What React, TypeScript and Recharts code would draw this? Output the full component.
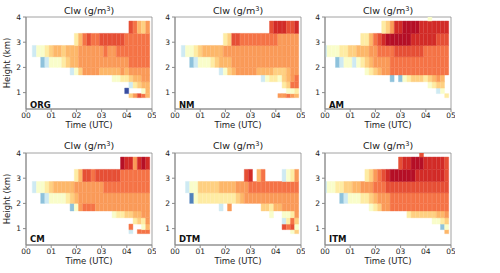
import { Bar, Cell, ComposedChart, ReferenceArea, XAxis, YAxis } from "recharts";

// column times, minutes after 00 UTC (10 min steps)
const MINUTES = [
  0, 10, 20, 30, 40, 50, 60, 70, 80, 90, 100, 110, 120, 130, 140, 150, 160, 170, 180, 190, 200, 210, 220,
  230, 240, 250, 260, 270, 280, 290,
];
const TIME_TICKS = [0, 60, 120, 180, 240, 300];
const HEIGHT_TICKS = [1, 2, 3, 4];
// layer edges in km, bottom to top
const ROW_EDGES = [0.8, 0.96, 1.18, 1.43, 1.7, 2.0, 2.42, 2.87, 3.35, 3.84, 4.3];

// one character per cell -> Clw (g/m3), "." = no cloud water
const LEVEL_CODES = "0123456789ABC";
const LEVEL_VALUES = [0.001, 0.007, 0.013, 0.0175, 0.032, 0.052, 0.07, 0.083, 0.095, 0.137, 0.19, 0.246, 0.3];

// colorbar ticks and where they sit on the bar (0 = bottom, 1 = top)
const CBAR_TICKS = [0, 0.01, 0.02, 0.1, 0.3];
const CBAR_POS = [0.022, 0.167, 0.433, 0.75, 0.969];
const RDYLBU_R = [
  "#313695", "#4575b4", "#74add1", "#abd9e9", "#e0f3f8", "#ffffbf",
  "#fee090", "#fdae61", "#f46d43", "#d73027", "#a50026",
];

// rows from top layer (3.84-4.3 km) down to bottom layer (0.8-0.96 km),
// right aligned so the last character is the 04:50 column
const ORG = [
  "",
  "A9768",
  "579A99AAAAAA999999",
  "3445677677788888898899999999",
  "234445677" + "888888888888" + "99999",
  "3468888" + "77777" + "8788888",
  "445567788",
  "35677",
  "0...47",
  "68A97",
];
const NM = [
  "",
  "ABBBAAB",
  "56AA" + "999999999" + "88888",
  "34456" + "77777" + "888888888888888888",
  "2344456777" + "8888888888888888",
  "3467888887777666788",
  "345546789",
  "5699",
  "445",
  "88987",
];
const AM = [
  "4....",
  "568BBCCCCBBBBBBB",
  "5579AB" + "CCCCCC" + "BBBBBB" + "AAA",
  "3444556677788" + "9999" + "AAAAAAA" + "999999",
  "2344345678888" + "99999999999999",
  "456788" + "99999999999999",
  "2.24566656787.",
  "4566.",
  "34.",
  "5",
];
const CM = [
  "",
  "CBB8BCB",
  "57AA9" + "AAAAAA" + "9999999",
  "34456777778888888" + "99999999999",
  "234444567" + "88888888888888888",
  "248999" + "8888888888888",
  "455667788",
  "5658",
  "9..47",
  "3.999",
];
const DTM = [
  "",
  "",
  "AB.79....3458",
  "344666667777888" + "999999999999",
  "14" + "555555555" + "67" + "8888888888888",
  "3.8.......665778888",
  "4..4458",
  "3596",
  "A9A4",
  "46",
];
const ITM = [
  "A......",
  "ABBCCCBBBBBA",
  "5689AB" + "CCCCCC" + "BBBBBBBA",
  "344556677888999" + "AAAAAAAAAAAAAAA",
  "234445567888" + "99999999999999",
  "45688" + "99999999999999",
  "5666666778",
  "4456",
  "24",
  "7",
];

const PANELS = [
  { name: "ORG", grid: ORG, col: 0, row: 0 },
  { name: "NM", grid: NM, col: 1, row: 0 },
  { name: "AM", grid: AM, col: 2, row: 0 },
  { name: "CM", grid: CM, col: 0, row: 1 },
  { name: "DTM", grid: DTM, col: 1, row: 1 },
  { name: "ITM", grid: ITM, col: 2, row: 1 },
];

const PLOT_LEFT = [26, 175, 325];
const PLOT_TOP = [17, 153];
const PLOT_W = 126;
const PLOT_H = 92;
const FONT = "'DejaVu Sans', sans-serif";
const FRAME = "#8a8a8a";

const norm = (v: number) => {
  for (let i = 1; i < CBAR_TICKS.length; i++) {
    if (v <= CBAR_TICKS[i] || i === CBAR_TICKS.length - 1) {
      const f = (v - CBAR_TICKS[i - 1]) / (CBAR_TICKS[i] - CBAR_TICKS[i - 1]);
      return CBAR_POS[i - 1] + f * (CBAR_POS[i] - CBAR_POS[i - 1]);
    }
  }
  return 0;
};

const rgb = (h: string) => [1, 3, 5].map((i) => parseInt(h.slice(i, i + 2), 16));

const cmap = (p: number) => {
  const n = RDYLBU_R.length - 1;
  const q = Math.min(1, Math.max(0, p)) * n;
  const i = Math.min(Math.floor(q), n - 1);
  const f = q - i;
  const a = rgb(RDYLBU_R[i]);
  const b = rgb(RDYLBU_R[i + 1]);
  const c = a.map((x, j) => Math.round(x + (b[j] - x) * f));
  return `rgb(${c[0]},${c[1]},${c[2]})`;
};

const cellColor = (code: string) => {
  const idx = LEVEL_CODES.indexOf(code);
  if (idx < 0) return "none";
  return cmap(norm(LEVEL_VALUES[idx]));
};

const buildData = (grid: string[]) => {
  const rows = grid.map((r) => r.padStart(MINUTES.length, ".")).reverse();
  return MINUTES.map((m, k) => {
    const d: Record<string, number | string> = { t: m, base: ROW_EDGES[0] };
    for (let i = 0; i < rows.length; i++) {
      d[`r${i}`] = ROW_EDGES[i + 1] - ROW_EDGES[i];
      d[`c${i}`] = rows[i][k];
    }
    return d;
  });
};

const Panel = ({ name, grid, col, row }: { name: string; grid: string[]; col: number; row: number }) => {
  const data = buildData(grid);
  const left = PLOT_LEFT[col];
  const top = PLOT_TOP[row];
  return (
    <>
      <div style={{ position: "absolute", left: left - 26, top: top - 4 }}>
        <ComposedChart
          width={26 + PLOT_W + 4}
          height={4 + PLOT_H + 28}
          data={data}
          margin={{ top: 4, right: 4, bottom: 0, left: 0 }}
          barCategoryGap={0}
          barGap={0}
        >
          <XAxis
            dataKey="t"
            type="number"
            domain={[0, 300]}
            ticks={TIME_TICKS}
            allowDataOverflow
            height={28}
            tickFormatter={(m: number) => `0${m / 60}`}
            tick={{ fontSize: 7.5, fill: "#222" }}
            tickSize={3}
            tickMargin={1}
            stroke={FRAME}
            label={{ value: "Time (UTC)", position: "insideTop", offset: 13, fontSize: 8.5, fill: "#222" }}
          />
          <YAxis
            type="number"
            domain={[0.35, 4]}
            ticks={HEIGHT_TICKS}
            allowDataOverflow
            width={26}
            tick={{ fontSize: 7.5, fill: "#222" }}
            tickSize={3}
            tickMargin={2}
            stroke={FRAME}
            label={
              col === 0
                ? { value: "Height (km)", angle: -90, position: "center", dx: -6, fontSize: 8.5, fill: "#222" }
                : undefined
            }
          />
          <Bar dataKey="base" stackId="s" fill="none" isAnimationActive={false} />
          {ROW_EDGES.slice(1).map((_, i) => (
            <Bar key={i} dataKey={`r${i}`} stackId="s" isAnimationActive={false}>
              {data.map((d, k) => {
                const c = cellColor(d[`c${i}`] as string);
                return <Cell key={k} fill={c} stroke={c} strokeWidth={0.4} />;
              })}
            </Bar>
          ))}
          <ReferenceArea x1={0} x2={300} y1={0.35} y2={4} fill="none" stroke={FRAME} strokeWidth={0.8} />
        </ComposedChart>
      </div>
      <div
        style={{
          position: "absolute",
          left,
          width: PLOT_W,
          top: row === 0 ? 6 : 141,
          textAlign: "center",
          fontSize: 9.5,
          lineHeight: "9.5px",
          color: "#222",
          whiteSpace: "nowrap",
        }}
      >
        Clw (g/m<span style={{ fontSize: "0.7em", position: "relative", top: "-0.45em" }}>3</span>)
      </div>
      <div
        style={{
          position: "absolute",
          left: left + 4,
          top: row === 0 ? 101 : 235,
          fontSize: 8.5,
          lineHeight: "8.5px",
          fontWeight: "bold",
          color: "#111",
        }}
      >
        {name}
      </div>
    </>
  );
};

const ColorbarShape = (props: { x?: number; y?: number; width?: number; height?: number }) => {
  const x = props.x ?? 0;
  const y = props.y ?? 0;
  const w = props.width ?? 0;
  const h = props.height ?? 0;
  return (
    <g>
      <defs>
        <linearGradient id="cbar" x1="0" y1="0" x2="0" y2="1">
          {RDYLBU_R.slice()
            .reverse()
            .map((c, i) => (
              <stop key={i} offset={i / (RDYLBU_R.length - 1)} stopColor={c} />
            ))}
        </linearGradient>
      </defs>
      <rect x={x} y={y} width={w} height={h} fill="url(#cbar)" />
      <path d={`M${x},${y} L${x + w},${y} L${x + w / 2},${y - 7} Z`} fill={RDYLBU_R[RDYLBU_R.length - 1]} />
      <path d={`M${x},${y + h} L${x + w},${y + h} L${x + w / 2},${y + h + 11} Z`} fill={RDYLBU_R[0]} />
    </g>
  );
};

const Colorbar = () => (
  <div style={{ position: "absolute", left: 440, top: 0 }}>
    <ComposedChart width={60} height={273} data={[{ x: 0.5 }]} margin={{ top: 28, right: 0, bottom: 65, left: 28 }}>
      <XAxis dataKey="x" type="number" domain={[0, 1]} hide />
      <YAxis
        type="number"
        orientation="right"
        domain={[0, 1]}
        ticks={CBAR_POS}
        width={28}
        axisLine={false}
        tickSize={3}
        tickMargin={2}
        stroke="#444"
        tick={{ fontSize: 7.5, fill: "#222", textAnchor: "start" }}
        tickFormatter={(p: number) => {
          const i = CBAR_POS.indexOf(p);
          return i >= 0 ? CBAR_TICKS[i].toFixed(2) : "";
        }}
      />
      <ReferenceArea x1={0} x2={1} y1={0} y2={1} shape={ColorbarShape} />
    </ComposedChart>
  </div>
);

export default function App() {
  return (
    <div
      style={{
        position: "absolute",
        left: 0,
        top: 0,
        width: 500,
        height: 273,
        background: "#fff",
        fontFamily: FONT,
      }}
    >
      {PANELS.map((p) => (
        <Panel key={p.name} {...p} />
      ))}
      <Colorbar />
    </div>
  );
}
